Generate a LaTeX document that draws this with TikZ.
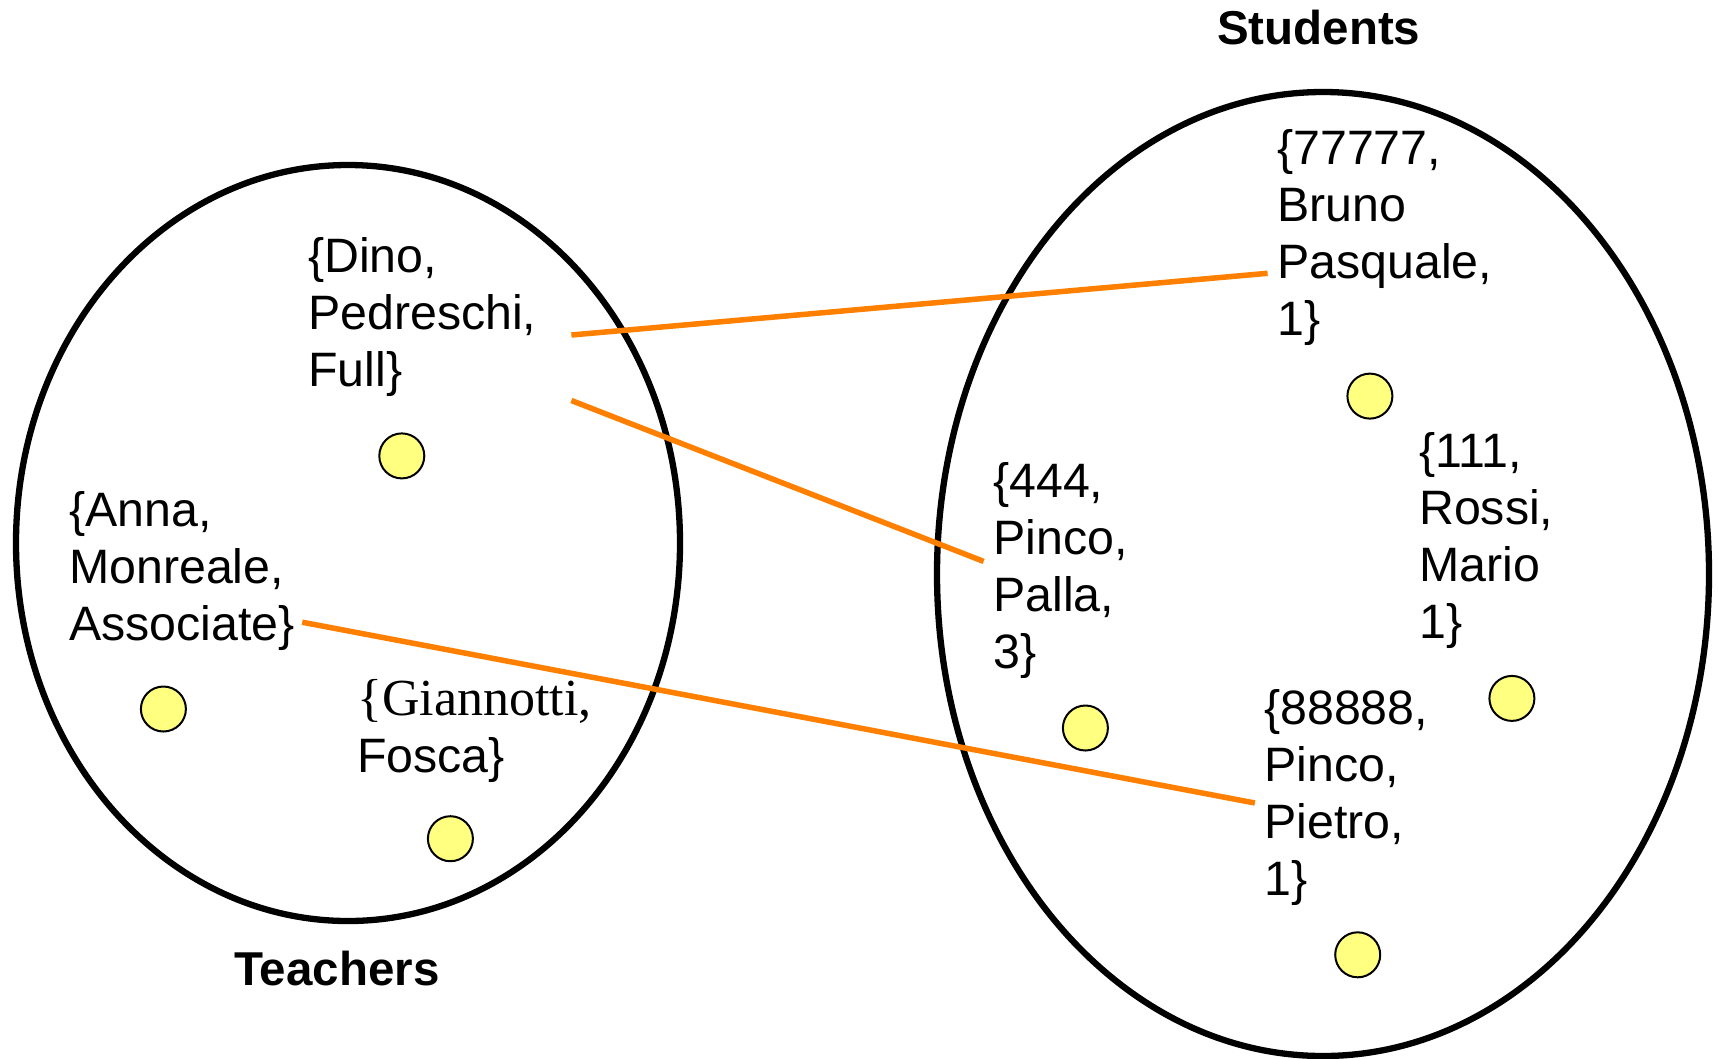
\documentclass[tikz,border=0pt]{standalone}
\usepackage{fontspec}
\setmainfont{Liberation Sans}
\newfontfamily\serifrm{Liberation Serif}
\begin{document}
\begin{tikzpicture}[x=1pt,y=-1pt,
  setellipse/.style={draw=black,line width=6.3pt},
  member/.style={circle,draw=black,line width=2pt,fill=dotyellow,minimum size=45pt,inner sep=0pt},
  elem/.style={anchor=north west,align=left,inner sep=0pt,font=\fontsize{48.3}{57}\selectfont},
  settitle/.style={anchor=base,inner sep=0pt,font=\fontsize{47.5}{57}\selectfont\bfseries},
  link/.style={draw=linkorange,line width=5.5pt}]
\definecolor{dotyellow}{RGB}{255,255,128}
\definecolor{linkorange}{RGB}{255,128,0}
\useasboundingbox[fill=white] (0,0) rectangle (1718,1058);
% sets
\draw[setellipse] (348,543) ellipse [x radius=332, y radius=378];
\draw[setellipse] (1323,574) ellipse [x radius=386, y radius=482];
% titles
\node[settitle] (students) at (1318.7,44.5) {Students};
\node[settitle] (teachers) at (337,985) {Teachers};
% teachers
\node[elem] (dino) at (308,237) {\{Dino,\\Pedreschi,\\Full\}};
\node[elem] (anna) at (69,491) {\{Anna,\\Monreale,\\Associate\}};
\node[elem] (gian) at (357,679) {{\serifrm\fontsize{52}{57}\selectfont\{Giannotti,}\\Fosca\}};
\node[member] (d1) at (401.8,455.9) {};
\node[member] (d2) at (163.4,709) {};
\node[member] (d3) at (450.4,838.7) {};
% students
\node[elem] (s7) at (1277,129) {\{77777,\\Bruno\\Pasquale,\\1\}};
\node[elem] (s4) at (993,462) {\{444,\\Pinco,\\Palla,\\3\}};
\node[elem] (s1) at (1419,432) {\{111,\\Rossi,\\Mario\\1\}};
\node[elem] (s8) at (1264,689) {\{88888,\\Pinco,\\Pietro,\\1\}};
\node[member] (e1) at (1369.9,396.1) {};
\node[member] (e2) at (1511.9,698.4) {};
\node[member] (e3) at (1085.4,728) {};
\node[member] (e4) at (1357.7,954.8) {};
% link ends
\coordinate (dinoA) at (571.4,335);
\coordinate (dinoB) at (571.4,400.5);
\coordinate (annaA) at (302.2,622.2);
\coordinate (s7A) at (1267.6,273.3);
\coordinate (s4A) at (983.6,561.4);
\coordinate (s8A) at (1254.9,803);
\draw[link] (dinoA) -- (s7A);
\draw[link] (dinoB) -- (s4A);
\draw[link] (annaA) -- (s8A);
\end{tikzpicture}
\end{document}
